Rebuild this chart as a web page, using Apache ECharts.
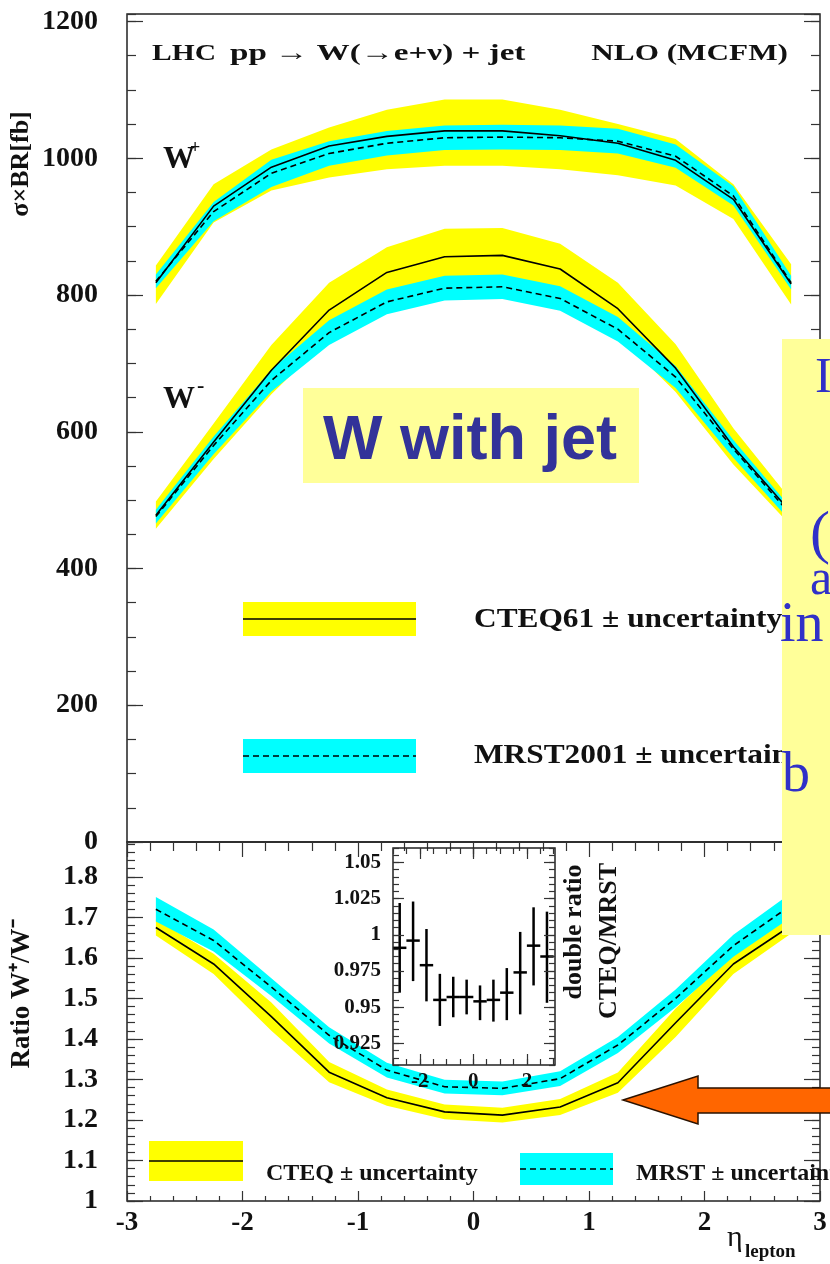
<!DOCTYPE html>
<html><head><meta charset="utf-8">
<script src="https://cdn.jsdelivr.net/npm/echarts@6/dist/echarts.min.js"></script>
<style>html,body{margin:0;padding:0;background:#fff}#c{width:830px;height:1264px}</style>
</head><body><div id="c"></div>
<script>
// ---- data ----
const eta = [-2.75,-2.25,-1.75,-1.25,-0.75,-0.25,0.25,0.75,1.25,1.75,2.25,2.75];
// W+ cross-section [fb]
const wpCteq   = [818, 930, 987,1018,1032,1040,1040,1033,1022, 997, 940, 816];
const wpCteqHi = [843, 962,1013,1045,1071,1086,1086,1071,1050,1028, 962, 845];
const wpCteqLo = [787, 906, 953, 972, 984, 989, 989, 984, 975, 960, 911, 786];
const wpMrst   = [820, 922, 978,1007,1022,1030,1031,1030,1025,1003, 945, 818];
const wpMrstHi = [830, 936, 998,1025,1040,1048,1049,1048,1043,1020, 959, 828];
const wpMrstLo = [810, 908, 958, 989,1004,1012,1013,1012,1007, 986, 931, 808];
// W- cross-section [fb]
const wmCteq   = [478, 585, 690, 778, 833, 856, 858, 838, 780, 693, 578, 482];
const wmCteqHi = [498, 612, 727, 818, 870, 897, 898, 875, 818, 728, 605, 500];
const wmCteqLo = [458, 560, 655, 738, 796, 815, 818, 800, 742, 658, 552, 462];
const wmMrst   = [476, 580, 675, 745, 790, 810, 812, 795, 750, 680, 575, 478];
const wmMrstHi = [486, 593, 691, 763, 808, 828, 830, 813, 768, 696, 588, 488];
const wmMrstLo = [466, 567, 659, 727, 772, 792, 794, 777, 732, 664, 562, 468];
// ratio W+/W-
const rCteq   = [1.675,1.585,1.455,1.318,1.255,1.220,1.212,1.232,1.292,1.440,1.585,1.680];
const rCteqHi = [1.695,1.610,1.490,1.343,1.275,1.238,1.230,1.252,1.317,1.475,1.610,1.700];
const rCteqLo = [1.655,1.560,1.420,1.293,1.235,1.202,1.194,1.212,1.267,1.405,1.560,1.660];
const rMrst   = [1.720,1.643,1.528,1.409,1.323,1.282,1.278,1.302,1.385,1.500,1.630,1.730];
const rMrstHi = [1.750,1.670,1.550,1.429,1.341,1.299,1.295,1.320,1.405,1.522,1.657,1.760];
const rMrstLo = [1.690,1.616,1.506,1.389,1.305,1.265,1.261,1.284,1.365,1.478,1.603,1.700];
// inset: double ratio CTEQ/MRST
const dbl   = [0.991,0.996,0.979,0.955,0.957,0.957,0.954,0.955,0.960,0.974,0.9925,0.985];
const dblHi = [1.022,1.023,1.004,0.973,0.971,0.969,0.965,0.969,0.977,1.002,1.019,1.016];
const dblLo = [0.960,0.968,0.954,0.937,0.943,0.945,0.941,0.940,0.941,0.945,0.965,0.953];
// tick labels
const insetYTicks = [0.925,0.95,0.975,1,1.025,1.05];
const insetXTicks = [-2,0,2];
const insetXMinor = [-3,-2.5,-2,-1.5,-1,-0.5,0,0.5,1,1.5,2,2.5,3];

const SERIF = '"Liberation Serif","Times New Roman",serif';
const SANS = '"Liberation Sans",Arial,sans-serif';
const TICK = {color:'#333', width:1.2};
const YEL = '#ffff00', CYA = '#00ffff';

function pairs(ys){ return eta.map((x,i)=>[x, ys[i]]); }
function band(xi, yi, lo, hi, color, z){
  return {type:'custom', xAxisIndex:xi, yAxisIndex:yi, silent:true, z:z, data:[[0,0]],
    renderItem:function(p, api){
      const pts=[];
      for (let i=0;i<eta.length;i++) pts.push(api.coord([eta[i], hi[i]]));
      for (let i=eta.length-1;i>=0;i--) pts.push(api.coord([eta[i], lo[i]]));
      return {type:'polygon', shape:{points:pts}, style:{fill:color}};
    }};
}
function line(xi, yi, ys, dashed){
  return {type:'line', xAxisIndex:xi, yAxisIndex:yi, data:pairs(ys), symbol:'none', silent:true, z:5,
    lineStyle:{color:'#000', width:1.6, type: dashed?[6,4]:'solid'}};
}
function ax(o){
  const base = {type:'value', splitLine:{show:false}, axisLine:{show:false, onZero:false},
                axisLabel:{show:false}, axisTick:{show:false}};
  return Object.assign(base, o);
}
function tk(len, extra){ return Object.assign({show:true, inside:true, length:len, lineStyle:TICK}, extra||{}); }
const LBL = {show:true, fontFamily:SERIF, fontWeight:'bold', fontSize:28, color:'#111',
             formatter:function(v){ return String(v); }};

const chart = echarts.init(document.getElementById('c'), null, {renderer:'canvas'});

function txt(text, x, y, font, fill, align, valign, extra){
  return Object.assign({type:'text', x:x, y:y, z:100,
    style:{text:text, font:font, fill:fill||'#111', textAlign:align||'left', align:align||'left',
           textVerticalAlign:valign||'middle', verticalAlign:valign||'middle'}}, extra||{});
}
const R90 = {rotation: Math.PI/2};

const graphic = [
  // title
  txt('LHC', 152, 66, 'bold 24px '+SERIF, '#111', 'left', 'bottom', {scaleX:1.23}),
  txt('pp \u2192 W(\u2192e+\u03bd) + jet', 230, 66, 'bold 24px '+SERIF, '#111', 'left', 'bottom', {scaleX:1.38}),
  txt('NLO (MCFM)', 788, 66, 'bold 24px '+SERIF, '#111', 'right', 'bottom', {scaleX:1.3}),
  // W+ / W- labels
  txt('W', 163, 176, 'bold 32px '+SERIF, '#111', 'left', 'bottom'),
  txt('+', 190, 148, 'bold 18px '+SERIF, '#111', 'left', 'middle'),
  txt('W', 163, 416, 'bold 32px '+SERIF, '#111', 'left', 'bottom'),
  txt('-', 197, 386, 'bold 22px '+SERIF, '#111', 'left', 'middle'),
  // W with jet box
  {type:'rect', z:90, shape:{x:303, y:388, width:336, height:95}, style:{fill:'#ffff99'}},
  txt('W with jet', 323, 473, 'bold 63px '+SANS, '#333399', 'left', 'bottom'),
  // top legends
  {type:'rect', z:95, shape:{x:243, y:602, width:173, height:34}, style:{fill:YEL}},
  {type:'line', z:96, shape:{x1:243, y1:619, x2:416, y2:619}, style:{stroke:'#000', lineWidth:1.6}},
  txt('CTEQ61 \u00b1 uncertainty', 474, 620, 'bold 28px '+SERIF, '#111', 'left', 'middle', {scaleX:1.12}),
  {type:'rect', z:95, shape:{x:243, y:739, width:173, height:34}, style:{fill:CYA}},
  {type:'line', z:96, shape:{x1:243, y1:756, x2:416, y2:756}, style:{stroke:'#000', lineWidth:1.6, lineDash:[6,4]}},
  txt('MRST2001 \u00b1 uncertainty', 474, 756, 'bold 28px '+SERIF, '#111', 'left', 'middle', {scaleX:1.12}),
  // bottom legends
  {type:'rect', z:95, shape:{x:149, y:1141, width:94, height:40}, style:{fill:YEL}},
  {type:'line', z:96, shape:{x1:149, y1:1161, x2:243, y2:1161}, style:{stroke:'#000', lineWidth:1.6}},
  txt('CTEQ \u00b1 uncertainty', 266, 1174, 'bold 24px '+SERIF, '#111', 'left', 'middle'),
  {type:'rect', z:95, shape:{x:520, y:1153, width:93, height:32}, style:{fill:CYA}},
  {type:'line', z:96, shape:{x1:520, y1:1169, x2:613, y2:1169}, style:{stroke:'#000', lineWidth:1.6, lineDash:[6,4]}},
  txt('MRST \u00b1 uncertainty', 636, 1174, 'bold 24px '+SERIF, '#111', 'left', 'middle'),
  // axis titles
  txt('\u03c3\u00d7BR[fb]', 21, 164, 'bold 26px '+SERIF, '#111', 'center', 'middle', R90),
  txt('Ratio W\u207a/W\u207b', 22, 994, 'bold 27px '+SERIF, '#111', 'center', 'middle', R90),
  txt('double ratio', 574, 932, 'bold 26px '+SERIF, '#111', 'center', 'middle', R90),
  txt('CTEQ/MRST', 609, 941, 'bold 26px '+SERIF, '#111', 'center', 'middle', R90),
  txt('\u03b7', 727, 1238, '30px '+SERIF, '#111', 'left', 'middle'),
  txt('lepton', 745, 1252, 'bold 19px '+SERIF, '#111', 'left', 'middle'),
  // right-hand text box (partly outside the page)
  {type:'rect', z:110, shape:{x:782, y:339, width:60, height:596}, style:{fill:'#ffff99'}},
  txt('I', 815, 404, '50px '+SERIF, '#3030c8', 'left', 'bottom', {z:111}),
  txt('(', 810, 566, '60px '+SERIF, '#3030c8', 'left', 'bottom', {z:111}),
  txt('a', 810, 606, '50px '+SERIF, '#3030c8', 'left', 'bottom', {z:111}),
  txt('in', 780, 654, '56px '+SERIF, '#3030c8', 'left', 'bottom', {z:111}),
  txt('b', 782, 804, '56px '+SERIF, '#3030c8', 'left', 'bottom', {z:111}),
  // orange arrow
  {type:'polygon', z:120, shape:{points:[[623,1100],[698,1076],[698,1088],[840,1088],[840,1113],[698,1113],[698,1124]]},
   style:{fill:'#ff6600', stroke:'#2a1200', lineWidth:1.5}}
];

const option = {
  animation:false,
  backgroundColor:'#ffffff',
  grid:[
    {left:127, top:14, width:693, height:828, show:true, borderColor:'#222', borderWidth:1.5},
    {left:127, top:842, width:693, height:359, show:true, borderColor:'#222', borderWidth:1.5},
    {left:393, top:848, width:162, height:217, show:true, borderColor:'#222', borderWidth:1.5, z:8}
  ],
  xAxis:[
    ax({gridIndex:0, min:-3, max:3, show:false}),
    ax({gridIndex:1, min:-3, max:3, interval:1, position:'bottom', axisTick:tk(10),
        minorTick:{show:true, splitNumber:5, length:5, lineStyle:TICK},
        axisLabel:Object.assign({}, LBL, {margin:9, fontSize:27})}),
    ax({gridIndex:1, min:-3, max:3, interval:1, position:'top', axisTick:tk(15),
        minorTick:{show:true, splitNumber:5, length:9, lineStyle:TICK}}),
    ax({gridIndex:2, z:10, min:-3, max:3.05, position:'bottom', axisTick:tk(11, {customValues:insetXTicks}),
        axisLabel:Object.assign({}, LBL, {fontSize:21, margin:6, customValues:insetXTicks})}),
    ax({gridIndex:2, z:10, min:-3, max:3.05, position:'bottom', axisTick:tk(6, {customValues:insetXMinor})}),
    ax({gridIndex:2, z:10, min:-3, max:3.05, position:'top', axisTick:tk(11, {customValues:insetXTicks})}),
    ax({gridIndex:2, z:10, min:-3, max:3.05, position:'top', axisTick:tk(6, {customValues:insetXMinor})})
  ],
  yAxis:[
    ax({gridIndex:0, min:0, max:1211, interval:200, position:'left', axisTick:tk(16),
        axisLabel:Object.assign({}, LBL, {margin:29, showMaxLabel:false})}),
    ax({gridIndex:0, min:0, max:1211, interval:50, position:'left', axisTick:tk(9)}),
    ax({gridIndex:0, min:0, max:1211, interval:200, position:'right', axisTick:tk(16)}),
    ax({gridIndex:0, min:0, max:1211, interval:50, position:'right', axisTick:tk(9)}),
    ax({gridIndex:1, min:1, max:1.886, interval:0.1, position:'left', axisTick:tk(16),
        axisLabel:Object.assign({}, LBL, {margin:29, showMaxLabel:false})}),
    ax({gridIndex:1, min:1, max:1.886, interval:0.02, position:'left', axisTick:tk(8)}),
    ax({gridIndex:1, min:1, max:1.886, interval:0.1, position:'right', axisTick:tk(16)}),
    ax({gridIndex:1, min:1, max:1.886, interval:0.02, position:'right', axisTick:tk(8)}),
    ax({gridIndex:2, z:10, min:0.91, max:1.06, position:'left', axisTick:tk(11, {customValues:insetYTicks}),
        axisLabel:Object.assign({}, LBL, {fontSize:21, margin:12, customValues:insetYTicks})}),
    ax({gridIndex:2, z:10, min:0.91, max:1.06, interval:0.005, position:'left', axisTick:tk(6)}),
    ax({gridIndex:2, z:10, min:0.91, max:1.06, position:'right', axisTick:tk(11, {customValues:insetYTicks})}),
    ax({gridIndex:2, z:10, min:0.91, max:1.06, interval:0.005, position:'right', axisTick:tk(6)})
  ],
  series:[
    band(0,0, wpCteqLo, wpCteqHi, YEL, 1),
    band(0,0, wmCteqLo, wmCteqHi, YEL, 1),
    band(0,0, wpMrstLo, wpMrstHi, CYA, 2),
    band(0,0, wmMrstLo, wmMrstHi, CYA, 2),
    line(0,0, wpCteq, false),
    line(0,0, wpMrst, true),
    line(0,0, wmCteq, false),
    line(0,0, wmMrst, true),
    band(1,4, rCteqLo, rCteqHi, YEL, 1),
    band(1,4, rMrstLo, rMrstHi, CYA, 2),
    line(1,4, rCteq, false),
    line(1,4, rMrst, true),
    {type:'custom', xAxisIndex:3, yAxisIndex:8, silent:true, z:6,
     data: eta.map((x,i)=>[x, dbl[i], dblLo[i], dblHi[i]]),
     encode:{x:0, y:1},
     renderItem:function(p, api){
       const x=api.value(0), y=api.value(1), lo=api.value(2), hi=api.value(3);
       const a=api.coord([x,lo]), b=api.coord([x,hi]), c=api.coord([x-0.25,y]), d=api.coord([x+0.25,y]);
       return {type:'group', children:[
         {type:'line', shape:{x1:a[0],y1:a[1],x2:b[0],y2:b[1]}, style:{stroke:'#000', lineWidth:2.5}},
         {type:'line', shape:{x1:c[0],y1:c[1],x2:d[0],y2:d[1]}, style:{stroke:'#000', lineWidth:2.5}}
       ]};
     }}
  ],
  graphic: graphic
};
chart.setOption(option);
</script></body></html>
